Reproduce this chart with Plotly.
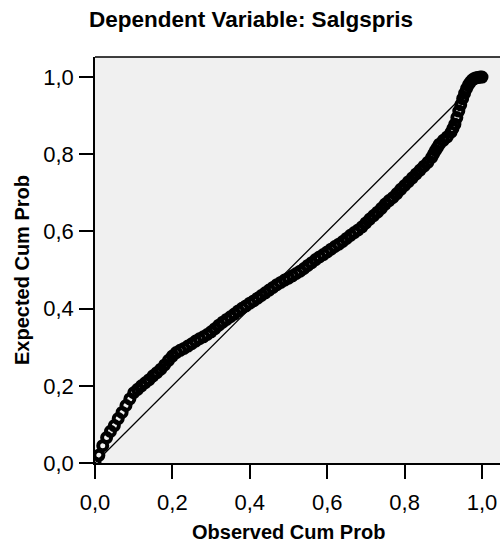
import plotly.graph_objects as go

# Observed vs. expected cumulative probabilities of the regression residuals
observed_cum_prob = [
    0.000, 0.010, 0.020, 0.030, 0.040, 0.050, 0.060, 0.070, 0.080, 0.090,
    0.100, 0.110, 0.120, 0.130, 0.140, 0.150, 0.160, 0.170, 0.180, 0.190,
    0.200, 0.210, 0.220, 0.230, 0.240, 0.250, 0.260, 0.270, 0.280, 0.290,
    0.300, 0.310, 0.320, 0.330, 0.340, 0.350, 0.360, 0.370, 0.380, 0.390,
    0.400, 0.410, 0.420, 0.430, 0.440, 0.450, 0.460, 0.470, 0.480, 0.490,
    0.500, 0.510, 0.520, 0.530, 0.540, 0.550, 0.560, 0.570, 0.580, 0.590,
    0.600, 0.610, 0.620, 0.630, 0.640, 0.650, 0.660, 0.670, 0.680, 0.690,
    0.700, 0.710, 0.720, 0.730, 0.740, 0.750, 0.760, 0.770, 0.780, 0.790,
    0.800, 0.810, 0.820, 0.830, 0.840, 0.850, 0.860, 0.870, 0.875, 0.880,
    0.885, 0.890, 0.900, 0.910, 0.920, 0.925, 0.930, 0.935, 0.940, 0.945,
    0.950, 0.955, 0.960, 0.965, 0.970, 0.975, 0.980, 0.985, 0.990, 0.995,
    1.000,
]
expected_cum_prob = [
    0.000, 0.020, 0.045, 0.066, 0.082, 0.097, 0.115, 0.131, 0.149, 0.166,
    0.182, 0.191, 0.200, 0.208, 0.216, 0.226, 0.234, 0.243, 0.254, 0.266,
    0.277, 0.286, 0.292, 0.297, 0.303, 0.309, 0.316, 0.322, 0.327, 0.333,
    0.340, 0.348, 0.357, 0.365, 0.372, 0.379, 0.386, 0.394, 0.401, 0.407,
    0.414, 0.420, 0.427, 0.434, 0.441, 0.448, 0.455, 0.462, 0.468, 0.474,
    0.479, 0.485, 0.491, 0.497, 0.504, 0.512, 0.519, 0.527, 0.534, 0.540,
    0.547, 0.554, 0.561, 0.567, 0.574, 0.582, 0.590, 0.597, 0.604, 0.612,
    0.622, 0.632, 0.641, 0.650, 0.660, 0.671, 0.680, 0.688, 0.698, 0.709,
    0.719, 0.729, 0.739, 0.749, 0.759, 0.769, 0.779, 0.792, 0.801, 0.810,
    0.818, 0.826, 0.836, 0.845, 0.857, 0.867, 0.878, 0.895, 0.912, 0.928,
    0.944, 0.958, 0.970, 0.980, 0.987, 0.993, 0.996, 0.998, 0.999, 1.000,
    1.000,
]
reference_line = [0.0, 1.0]
tick_values = [0.0, 0.2, 0.4, 0.6, 0.8, 1.0]

FONT = "Liberation Sans, Arial, sans-serif"

fig = go.Figure()

# 45-degree reference line
fig.add_trace(go.Scatter(
    x=reference_line, y=reference_line, mode="lines",
    line=dict(color="black", width=1.3), hoverinfo="skip", showlegend=False,
))

# P-P points
fig.add_trace(go.Scatter(
    x=observed_cum_prob, y=expected_cum_prob, mode="markers",
    marker=dict(symbol="circle-open", size=9, color="black",
                line=dict(color="black", width=4)),
    showlegend=False,
))

axis_common = dict(
    showgrid=False, zeroline=False, showline=True, linecolor="black",
    linewidth=1.5, ticks="outside", ticklen=14, tickwidth=1.5,
    tickcolor="black", tickvals=tick_values, tickformat=".1f",
    tickfont=dict(family=FONT, size=22, color="black"),
)

fig.update_xaxes(range=[0, 1.0465], ticklabelstandoff=5, **axis_common)
fig.update_yaxes(range=[0, 1.052], ticklabelstandoff=1, **axis_common)

fig.update_layout(
    width=500, height=545,
    margin=dict(l=95, r=0, t=57, b=82),
    paper_bgcolor="white", plot_bgcolor="#f0f0f0",
    separators=",.",
    title=dict(
        text="<b>Dependent Variable: Salgspris</b>",
        font=dict(family=FONT, size=22.5, color="black"),
        xref="container", x=0.502, xanchor="center",
        yref="container", y=1 - 19 / 545, yanchor="middle",
    ),
    annotations=[
        dict(text="<b>Observed Cum Prob</b>", xref="x", x=0.5,
             yref="paper", y=0, yanchor="middle", yshift=-69,
             showarrow=False,
             font=dict(family=FONT, size=20, color="black")),
        dict(text="<b>Expected Cum Prob</b>", xref="paper", x=0,
             xanchor="center", xshift=-73, yref="y", y=0.5,
             yanchor="middle", textangle=-90, showarrow=False,
             font=dict(family=FONT, size=20, color="black")),
    ],
    shapes=[
        dict(type="line", xref="paper", yref="paper", x0=0, x1=1,
             y0=1, y1=1, line=dict(color="black", width=1.5)),
    ],
)

fig.write_html("out.html")
